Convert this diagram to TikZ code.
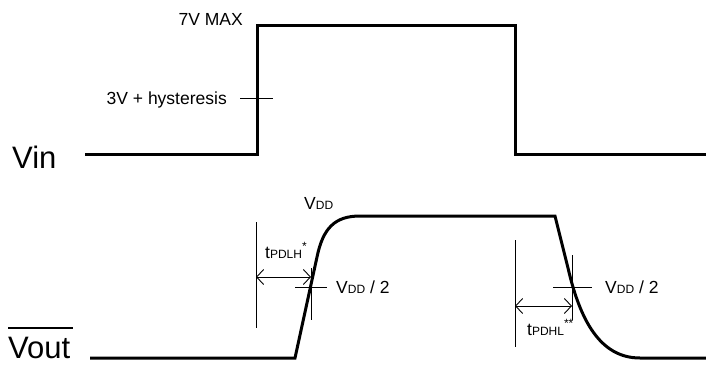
\documentclass[tikz,border=0pt]{standalone}
\usepackage{fontspec}
\setmainfont{Liberation Sans}
\usetikzlibrary{arrows.meta}
\tikzset{>={Straight Barb[length=7pt,width=15pt]}}
\tikzstyle{sig} = [line width=3pt, line join=miter]
\tikzstyle{fine} = [line width=0.9pt]
\tikzstyle{lbl} = [inner sep=0pt, font=\fontsize{17.5}{20}\selectfont]
\tikzstyle{big} = [inner sep=0pt, font=\fontsize{31}{36}\selectfont]
\newcommand{\sm}[1]{{\fontsize{12}{14}\selectfont #1}}

\begin{document}
\begin{tikzpicture}[x=1pt, y=-1pt]
\useasboundingbox (0,0) rectangle (706,364);

% input
\node [big, anchor=base west] (Vin) at (12, 168) {Vin};
\node [lbl, anchor=base east] (Max) at (243, 25) {7V MAX};
\node [lbl, anchor=base east] (Hys) at (227, 104) {3V + hysteresis};
\draw [sig] (85, 154) -- (257, 154) -- (257, 25) -- (515, 25) -- (515, 154) -- (706, 154);
\coordinate (HysA) at (240, 98);
\coordinate (HysB) at (273, 98);
\draw [fine] (HysA) -- (HysB);

% output
\node [big, anchor=base west] (Vout) at (8, 358) {Vout};
\draw [line width=2pt] ([yshift=8pt]Vout.north west) -- ([yshift=8pt, xshift=3pt]Vout.north east);
\draw [sig] (90, 358) -- (295, 358) -- (317, 257) .. controls (323, 228) and (335, 216) .. (360, 216)
  -- (555, 216) -- (568, 268) .. controls (580, 320) and (600, 358) .. (640, 358) -- (706, 358);
\node [lbl, anchor=base west] (Vdd) at (304, 209) {V\sm{DD}};

% rising edge
\coordinate (LHa) at (256, 222);
\coordinate (LHb) at (256, 328);
\coordinate (LHc) at (311, 268);
\coordinate (LHd) at (311, 320);
\draw [fine] (LHa) -- (LHb);
\draw [fine] (LHc) -- (LHd);
\draw [fine, <->] (LHa |- 0, 277) -- (LHc |- 0, 277);
\coordinate (LHe) at (295, 287);
\coordinate (LHf) at (327, 287);
\draw [fine] (LHe) -- (LHf);
\node [lbl, anchor=base west] (tLH) at (265, 258) {t\sm{PDLH}\raisebox{8pt}{\sm{*}}};
\node [lbl, anchor=base west] (HalfL) at (336, 293) {V\sm{DD} / 2};

% falling edge
\coordinate (HLa) at (515, 240);
\coordinate (HLb) at (515, 347);
\coordinate (HLc) at (572, 255);
\coordinate (HLd) at (572, 320);
\draw [fine] (HLa) -- (HLb);
\draw [fine] (HLc) -- (HLd);
\draw [fine, <->] (HLa |- 0, 306) -- (HLc |- 0, 306);
\coordinate (HLe) at (553, 287);
\coordinate (HLf) at (592, 287);
\draw [fine] (HLe) -- (HLf);
\node [lbl, anchor=base west] (tHL) at (527, 335) {t\sm{PDHL}\raisebox{8pt}{\sm{**}}};
\node [lbl, anchor=base west] (HalfH) at (605, 293) {V\sm{DD} / 2};
\end{tikzpicture}
\end{document}
